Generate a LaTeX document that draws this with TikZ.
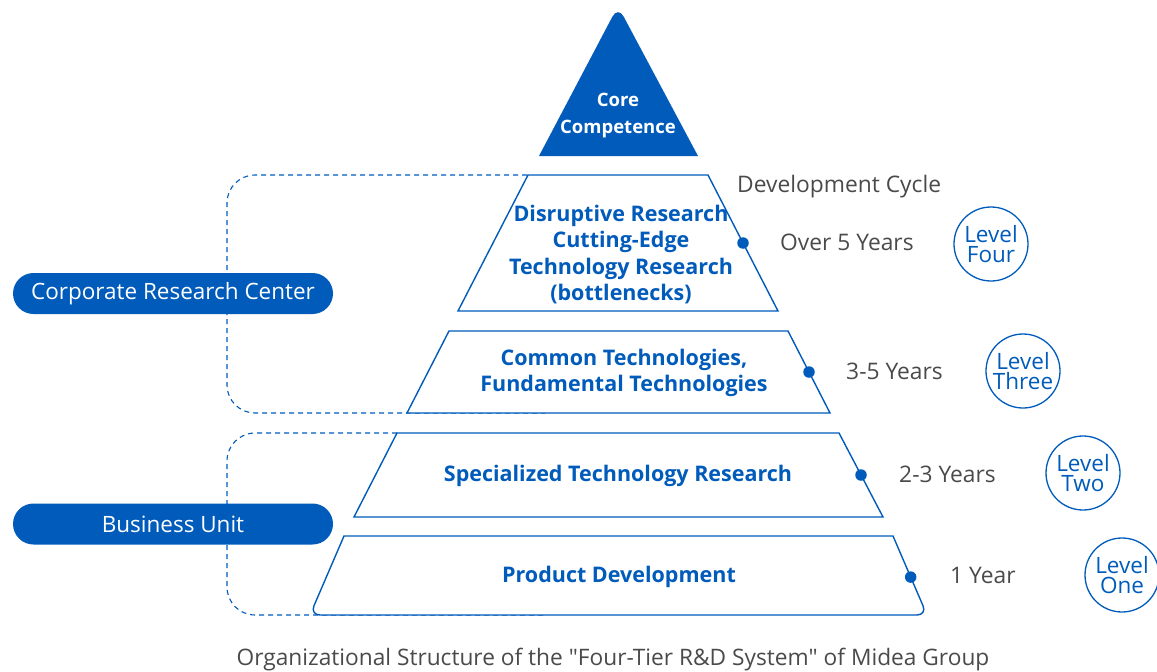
\documentclass[tikz,border=0pt]{standalone}
\usepackage{fontspec}
\setmainfont{Open Sans}
\usetikzlibrary{calc}
\definecolor{mblue}{HTML}{005BBB}
\definecolor{mgray}{HTML}{4A4A4A}
\begin{document}
\begin{tikzpicture}[x=1pt,y=-1pt,
 tier/.style={draw=mblue, line width=1.4pt, fill=white, line join=miter},
 tiertext/.style={text=mblue, font=\fontsize{21.5}{26.6}\selectfont\bfseries, align=center, inner sep=0pt},
 cyc/.style={text=mgray, font=\fontsize{22.8}{24}\selectfont, inner sep=0pt, anchor=west},
 levelc/.style={circle, draw=mblue, line width=1.3pt, minimum size=74pt, inner sep=0pt, text=mblue, align=center, font=\fontsize{22.5}{20.5}\selectfont},
 pill/.style={rounded corners=20.5pt, fill=mblue, text=white, minimum width=320pt, minimum height=41pt, inner sep=0pt, font=\fontsize{22.5}{24}\selectfont},
 bracket/.style={draw=mblue, dash pattern=on 5pt off 4pt, line width=1.1pt, rounded corners=28pt},
 dot/.style={circle, fill=mblue, inner sep=0pt, minimum size=11.5pt}]
\useasboundingbox (0,0) rectangle (1157,672);

% dashed brackets
\draw[bracket] (527,175) -- (227,175) -- (227,413) -- (545,413);
\draw[bracket] (397,433) -- (227,433) -- (227,615) -- (545,615);

% top triangle
\fill[mblue] (539,156) [rounded corners=12pt] -- (618,6) [sharp corners] -- (698,156) -- cycle;
\node[text=white, font=\fontsize{18.5}{27}\selectfont\bfseries, align=center, inner sep=0pt] (core) at (618,116) {Core\\Competence};

% tiers
\coordinate (t4a) at (528,175); \coordinate (t4b) at (708,175);
\coordinate (t4c) at (778,311); \coordinate (t4d) at (458,311);
\draw[tier] (t4a) -- (t4b) -- (t4c) -- (t4d) -- cycle;
\coordinate (t3a) at (449,331); \coordinate (t3b) at (788,331);
\coordinate (t3c) at (830,413); \coordinate (t3d) at (407,413);
\draw[tier] (t3a) -- (t3b) -- (t3c) -- (t3d) -- cycle;
\coordinate (t2a) at (397,433); \coordinate (t2b) at (839,433);
\coordinate (t2c) at (883,517); \coordinate (t2d) at (354,517);
\draw[tier] (t2a) -- (t2b) -- (t2c) -- (t2d) -- cycle;
\coordinate (t1a) at (344,536); \coordinate (t1b) at (893,536);
\coordinate (t1c) at (927,615); \coordinate (t1d) at (310,615);
\draw[tier] (t1a) -- (t1b) [rounded corners=10pt] -- (t1c) -- (t1d) [sharp corners] -- cycle;

\node[tiertext] (l4) at (621,254.5) {Disruptive Research\\Cutting-Edge\\Technology Research\\(bottlenecks)};
\node[tiertext] (l3) at (624,373) {Common Technologies,\\Fundamental Technologies};
\node[tiertext] (l2) at (618,476) {Specialized Technology Research};
\node[tiertext] (l1) at (619,577) {Product Development};

% dots
\node[dot] (d4) at ($(t4b)!0.5!(t4c)$) {};
\node[dot] (d3) at ($(t3b)!0.5!(t3c)$) {};
\node[dot] (d2) at ($(t2b)!0.5!(t2c)$) {};
\node[dot] (d1) at ($(t1b)!0.52!(t1c)$) {};

% cycle labels
\node[cyc] (dc) at (737,187) {Development Cycle};
\node[cyc] (y4) at (780,242) {Over 5 Years};
\node[cyc] (y3) at (846,371) {3-5 Years};
\node[cyc] (y2) at (899,474) {2-3 Years};
\node[cyc] (y1) at (950,575) {1 Year};

% level circles
\node[levelc] (c4) at (991,244) {Level\\Four};
\node[levelc] (c3) at (1023,371) {Level\\Three};
\node[levelc] (c2) at (1083,473) {Level\\Two};
\node[levelc] (c1) at (1122,575) {Level\\One};

% pills
\node[pill] (crc) at (173,293.5) {Corporate Research Center};
\node[pill] (bu) at (173,524) {Business Unit};

% caption
\node[text=mgray, font=\fontsize{22.7}{24}\selectfont, inner sep=0pt] (cap) at (613,660) {Organizational Structure of the \textquotedbl Four-Tier R\&D System\textquotedbl\ of Midea Group};
\end{tikzpicture}
\end{document}
